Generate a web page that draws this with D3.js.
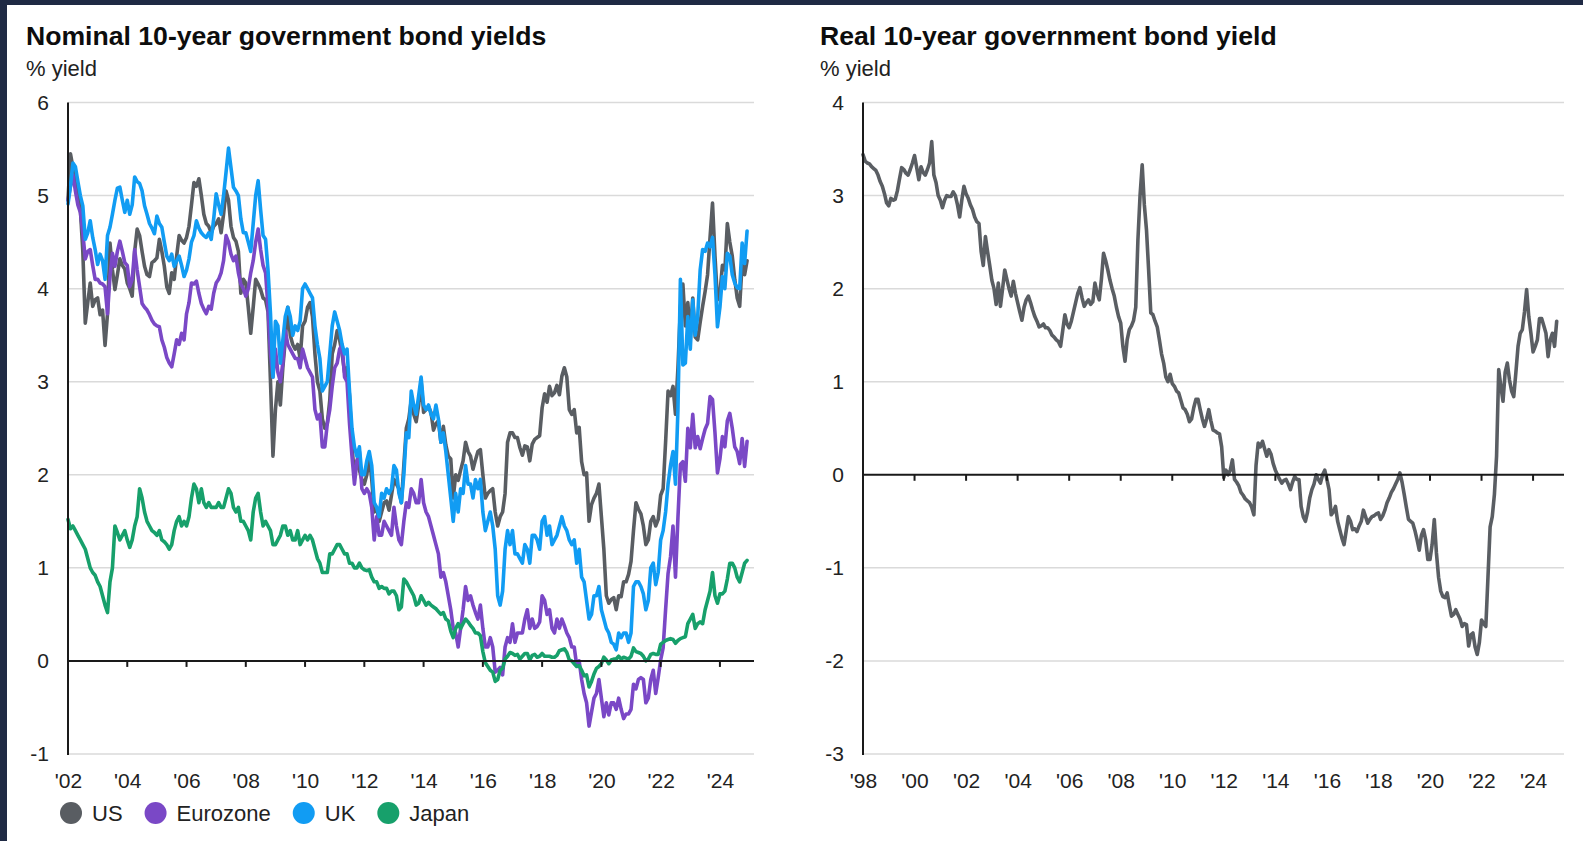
<!DOCTYPE html>
<html>
<head>
<meta charset="utf-8">
<script src="https://cdn.jsdelivr.net/npm/d3@7"></script>
<style>
  html, body { margin: 0; padding: 0; background: #1f2a44; }
  body { width: 1583px; height: 841px; overflow: hidden; }
  svg { display: block; }
</style>
</head>
<body>
<svg id="chart" width="1583" height="841"></svg>
<script>
// Monthly 10-year government bond yields (% yield), January 2002 to December 2024
const nominalStartYear = 2002;
const usYields = [
  4.95, 5.45, 5.30, 5.22, 5.05, 4.86, 4.40, 3.63, 3.85, 4.06, 3.81, 3.88,
  3.90, 3.72, 3.77, 3.39, 3.73, 4.49, 4.20, 3.99, 4.15, 4.32, 4.25, 4.21,
  4.06, 4.00, 3.92, 4.40, 4.64, 4.57, 4.40, 4.24, 4.15, 4.13, 4.28, 4.30,
  4.33, 4.53, 4.40, 4.24, 4.02, 3.95, 4.17, 4.10, 4.35, 4.57, 4.52, 4.49,
  4.55, 4.67, 4.90, 5.14, 5.10, 5.18, 5.00, 4.80, 4.70, 4.67, 4.60, 4.67,
  4.70, 4.75, 4.60, 4.80, 5.05, 4.95, 4.67, 4.55, 4.51, 4.40, 3.95, 4.10,
  4.06, 3.80, 3.52, 3.80, 4.10, 4.05, 3.99, 3.90, 3.88, 3.75, 3.00, 2.20,
  2.70, 3.00, 2.75, 3.15, 3.45, 3.80, 3.50, 3.40, 3.35, 3.40, 3.25, 3.60,
  3.65, 3.80, 3.85, 3.70, 3.30, 3.00, 2.90, 2.60, 2.50, 2.55, 2.80, 3.30,
  3.40, 3.55, 3.45, 3.30, 3.10, 3.15, 2.85, 2.30, 2.00, 2.15, 2.05, 1.95,
  1.90, 2.00, 2.20, 1.95, 1.60, 1.65, 1.50, 1.60, 1.70, 1.72, 1.62, 1.78,
  1.95, 1.90, 1.85, 1.70, 2.10, 2.50, 2.60, 2.80, 2.65, 2.57, 2.75, 3.00,
  2.67, 2.70, 2.73, 2.67, 2.48, 2.55, 2.58, 2.35, 2.52, 2.32, 2.20, 2.17,
  1.75, 2.00, 1.94, 2.05, 2.15, 2.35, 2.25, 2.20, 2.06, 2.16, 2.25, 2.27,
  2.00, 1.75, 1.80, 1.83, 1.85, 1.60, 1.45, 1.55, 1.60, 1.80, 2.35, 2.45,
  2.45, 2.40, 2.40, 2.29, 2.21, 2.31, 2.30, 2.15, 2.33, 2.38, 2.40, 2.42,
  2.72, 2.87, 2.78, 2.95, 2.85, 2.88, 2.96, 2.86, 3.06, 3.15, 3.05, 2.70,
  2.65, 2.70, 2.45, 2.51, 2.14, 2.00, 2.02, 1.50, 1.68, 1.75, 1.80, 1.90,
  1.55, 1.20, 0.70, 0.62, 0.66, 0.68, 0.55, 0.70, 0.69, 0.85, 0.85, 0.93,
  1.07, 1.40, 1.70, 1.63, 1.58, 1.45, 1.25, 1.30, 1.50, 1.55, 1.45, 1.52,
  1.78, 1.85, 2.35, 2.90, 2.85, 2.95, 2.65, 3.15, 3.80, 4.05, 3.60, 3.85,
  3.50, 3.90, 3.48, 3.45, 3.64, 3.81, 3.97, 4.15, 4.55, 4.92, 4.35, 3.88,
  3.95, 4.25, 4.20, 4.70, 4.50, 4.35, 4.10, 3.90, 3.81, 4.28, 4.15, 4.30
];
const eurozoneYields = [
  4.95, 5.10, 5.22, 5.05, 4.90, 4.82, 4.60, 4.32, 4.40, 4.42, 4.25, 4.10,
  4.10, 4.06, 4.05, 4.02, 3.73, 4.13, 4.38, 4.24, 4.40, 4.51, 4.40, 4.28,
  4.25, 4.02, 4.10, 4.42, 4.20, 4.02, 3.84, 3.80, 3.77, 3.72, 3.66, 3.62,
  3.60, 3.59, 3.45, 3.37, 3.26, 3.20, 3.16, 3.30, 3.45, 3.40, 3.52, 3.45,
  3.73, 3.85, 4.06, 4.05, 4.08, 3.95, 3.84, 3.78, 3.73, 3.81, 3.78, 3.95,
  4.06, 4.10, 4.17, 4.30, 4.57, 4.50, 4.37, 4.30, 4.35, 4.17, 4.05, 4.00,
  3.92, 4.00, 4.17, 4.30, 4.50, 4.64, 4.42, 4.25, 4.17, 3.80, 3.30, 3.05,
  3.35, 3.10, 3.00, 3.20, 3.55, 3.40, 3.35, 3.30, 3.25, 3.25, 3.15, 3.35,
  3.25, 3.15, 3.10, 3.05, 2.70, 2.60, 2.65, 2.30, 2.30, 2.55, 2.70, 2.95,
  3.15, 3.20, 3.35, 3.40, 3.05, 3.00, 2.55, 2.20, 1.90, 2.15, 2.25, 1.85,
  1.80, 1.85, 1.80, 1.65, 1.30, 1.55, 1.35, 1.35, 1.50, 1.45, 1.40, 1.35,
  1.65, 1.45, 1.30, 1.25, 1.50, 1.70, 1.65, 1.85, 1.80, 1.70, 1.70, 1.95,
  1.70, 1.60, 1.55, 1.45, 1.35, 1.25, 1.15, 0.90, 0.95, 0.85, 0.70, 0.55,
  0.35, 0.30, 0.15, 0.35, 0.55, 0.80, 0.65, 0.70, 0.60, 0.52, 0.45, 0.60,
  0.35, 0.15, 0.15, 0.25, 0.15, -0.12, -0.10, -0.07, -0.15, 0.15, 0.25, 0.20,
  0.40, 0.20, 0.30, 0.30, 0.30, 0.45, 0.55, 0.35, 0.45, 0.35, 0.37, 0.42,
  0.70, 0.65, 0.50, 0.55, 0.35, 0.30, 0.45, 0.35, 0.45, 0.38, 0.30, 0.25,
  0.15, 0.15, -0.05, 0.00, -0.20, -0.35, -0.45, -0.70, -0.55, -0.40, -0.35, -0.20,
  -0.40, -0.60, -0.45, -0.58, -0.45, -0.45, -0.52, -0.40, -0.52, -0.62, -0.57, -0.57,
  -0.52, -0.25, -0.30, -0.20, -0.18, -0.20, -0.45, -0.40, -0.20, -0.10, -0.35, -0.18,
  0.01, 0.14, 0.55, 0.94, 1.12, 1.45, 0.90, 1.54, 2.11, 2.14, 1.93, 2.50,
  2.29, 2.65, 2.29, 2.41, 2.28, 2.39, 2.49, 2.55, 2.84, 2.81, 2.45, 2.02,
  2.17, 2.41, 2.30, 2.58, 2.66, 2.50, 2.30, 2.25, 2.12, 2.39, 2.09, 2.36
];
const ukYields = [
  4.91, 5.10, 5.35, 5.31, 5.15, 5.00, 4.89, 4.53, 4.60, 4.73, 4.55, 4.42,
  4.26, 4.37, 4.30, 4.10, 4.57, 4.66, 4.80, 4.95, 5.08, 5.09, 4.95, 4.82,
  4.95, 4.80, 4.90, 5.20, 5.15, 5.13, 5.05, 4.89, 4.80, 4.70, 4.65, 4.59,
  4.78, 4.70, 4.66, 4.50, 4.35, 4.30, 4.37, 4.24, 4.30, 4.35, 4.25, 4.13,
  4.20, 4.32, 4.50, 4.57, 4.73, 4.65, 4.60, 4.57, 4.55, 4.60, 4.53, 4.75,
  5.02, 4.90, 4.80, 5.00, 5.25, 5.51, 5.30, 5.09, 5.05, 5.00, 4.75, 4.60,
  4.60, 4.50, 4.40, 4.70, 5.00, 5.16, 4.85, 4.57, 4.53, 4.20, 3.73, 3.05,
  3.65, 3.60, 3.20, 3.45, 3.70, 3.80, 3.70, 3.50, 3.60, 3.55, 3.65, 4.00,
  4.05, 4.00, 3.95, 3.90, 3.60, 3.40, 3.25, 2.90, 2.95, 3.00, 3.30, 3.60,
  3.75, 3.65, 3.55, 3.40, 3.30, 3.35, 2.90, 2.50, 2.30, 2.20, 2.30, 2.00,
  2.00, 2.15, 2.25, 2.10, 1.70, 1.65, 1.55, 1.80, 1.75, 1.85, 1.80, 1.85,
  2.10, 2.05, 1.80, 1.70, 2.00, 2.45, 2.40, 2.90, 2.75, 2.65, 2.85, 3.05,
  2.75, 2.70, 2.75, 2.65, 2.60, 2.75, 2.60, 2.35, 2.45, 2.25, 2.00, 1.75,
  1.50, 1.80, 1.60, 1.85, 1.80, 2.10, 1.90, 1.90, 1.75, 1.95, 1.85, 1.95,
  1.60, 1.40, 1.50, 1.60, 1.45, 1.20, 0.70, 0.60, 0.75, 1.20, 1.40, 1.25,
  1.40, 1.15, 1.15, 1.10, 1.05, 1.25, 1.20, 1.05, 1.35, 1.35, 1.30, 1.20,
  1.50, 1.55, 1.35, 1.45, 1.25, 1.30, 1.35, 1.45, 1.55, 1.45, 1.40, 1.30,
  1.25, 1.30, 1.05, 1.20, 0.90, 0.85, 0.65, 0.45, 0.50, 0.70, 0.70, 0.80,
  0.55, 0.45, 0.35, 0.30, 0.20, 0.18, 0.12, 0.30, 0.25, 0.30, 0.30, 0.20,
  0.30, 0.80, 0.85, 0.85, 0.80, 0.72, 0.55, 0.65, 1.00, 1.05, 0.82, 0.95,
  1.30, 1.40, 1.60, 1.90, 2.10, 2.25, 1.90, 2.70, 4.10, 3.18, 3.20, 3.70,
  3.35, 3.88, 3.50, 3.70, 4.20, 4.42, 4.40, 4.49, 4.45, 4.55, 4.15, 3.59,
  3.80, 4.13, 4.00, 4.38, 4.35, 4.15, 4.06, 4.01, 4.00, 4.49, 4.27, 4.62
];
const japanYields = [
  1.52, 1.42, 1.45, 1.40, 1.35, 1.30, 1.25, 1.20, 1.10, 1.00, 0.95, 0.92,
  0.85, 0.80, 0.70, 0.60, 0.52, 0.85, 1.00, 1.45, 1.38, 1.30, 1.35, 1.40,
  1.30, 1.22, 1.30, 1.45, 1.55, 1.85, 1.75, 1.60, 1.50, 1.45, 1.40, 1.38,
  1.35, 1.40, 1.30, 1.28, 1.25, 1.20, 1.25, 1.40, 1.50, 1.55, 1.45, 1.50,
  1.45, 1.55, 1.75, 1.90, 1.85, 1.70, 1.85, 1.70, 1.65, 1.70, 1.65, 1.65,
  1.65, 1.70, 1.65, 1.65, 1.75, 1.85, 1.80, 1.65, 1.60, 1.65, 1.50, 1.50,
  1.45, 1.40, 1.30, 1.60, 1.75, 1.80, 1.60, 1.45, 1.50, 1.45, 1.40, 1.25,
  1.25, 1.30, 1.35, 1.45, 1.45, 1.35, 1.40, 1.30, 1.30, 1.40, 1.25, 1.30,
  1.35, 1.30, 1.35, 1.30, 1.20, 1.10, 1.05, 0.95, 0.95, 0.95, 1.15, 1.15,
  1.20, 1.25, 1.25, 1.20, 1.15, 1.15, 1.05, 1.05, 1.00, 1.00, 1.05, 1.00,
  0.98, 0.97, 0.98, 0.90, 0.85, 0.85, 0.78, 0.80, 0.78, 0.78, 0.72, 0.75,
  0.75, 0.70, 0.55, 0.58, 0.88, 0.85, 0.80, 0.75, 0.70, 0.60, 0.62, 0.70,
  0.65, 0.60, 0.63, 0.60, 0.58, 0.56, 0.53, 0.50, 0.52, 0.45, 0.43, 0.32,
  0.25, 0.35, 0.40, 0.35, 0.40, 0.45, 0.42, 0.38, 0.35, 0.30, 0.30, 0.27,
  0.10, -0.02, -0.06, -0.10, -0.12, -0.22, -0.20, -0.10, -0.08, 0.02, 0.05, 0.09,
  0.08, 0.06, 0.07, 0.02, 0.05, 0.08, 0.08, 0.01, 0.06, 0.07, 0.04, 0.05,
  0.08, 0.05, 0.05, 0.05, 0.04, 0.04, 0.06, 0.11, 0.12, 0.13, 0.09, 0.01,
  0.00, -0.03, -0.06, -0.05, -0.10, -0.16, -0.15, -0.28, -0.22, -0.14, -0.08, -0.06,
  -0.03, 0.04, 0.01, -0.03, 0.01, 0.02, 0.02, 0.05, 0.02, 0.04, 0.03, 0.02,
  0.05, 0.14, 0.10, 0.09, 0.08, 0.05, 0.00, 0.02, 0.07, 0.08, 0.07, 0.07,
  0.18, 0.20, 0.22, 0.23, 0.24, 0.23, 0.19, 0.22, 0.24, 0.25, 0.26, 0.40,
  0.45, 0.50, 0.35, 0.40, 0.42, 0.40, 0.55, 0.65, 0.75, 0.95, 0.70, 0.62,
  0.72, 0.72, 0.75, 0.88, 1.05, 1.05, 1.00, 0.90, 0.85, 0.95, 1.05, 1.08
];

// Monthly real 10-year government bond yield (% yield), January 1998 to December 2024
const realStartYear = 1998;
const realYields = [
  3.44, 3.37, 3.35, 3.34, 3.31, 3.29, 3.27, 3.22, 3.15, 3.10, 3.02, 2.92,
  2.89, 2.97, 2.95, 2.96, 3.05, 3.18, 3.30, 3.28, 3.24, 3.22, 3.28, 3.35,
  3.43, 3.30, 3.17, 3.31, 3.25, 3.22, 3.28, 3.35, 3.58, 3.22, 3.14, 3.00,
  2.95, 2.87, 2.95, 3.00, 2.99, 2.99, 3.04, 3.00, 2.90, 2.77, 2.95, 3.10,
  3.02, 2.97, 2.90, 2.85, 2.77, 2.72, 2.70, 2.40, 2.25, 2.56, 2.40, 2.25,
  2.09, 2.00, 1.83, 2.06, 1.81, 2.00, 2.20, 2.10, 2.00, 1.92, 2.08, 1.95,
  1.85, 1.75, 1.66, 1.80, 1.88, 1.92, 1.85, 1.77, 1.70, 1.65, 1.59, 1.60,
  1.62, 1.58, 1.58, 1.55, 1.50, 1.48, 1.45, 1.43, 1.38, 1.55, 1.72, 1.62,
  1.58, 1.65, 1.75, 1.85, 1.95, 2.01, 1.90, 1.81, 1.85, 1.88, 1.83, 1.86,
  2.06, 1.95, 1.88, 2.10, 2.38, 2.30, 2.20, 2.09, 2.00, 1.92, 1.80, 1.70,
  1.63, 1.38, 1.22, 1.45, 1.56, 1.60, 1.66, 1.80, 2.52, 3.00, 3.33, 2.90,
  2.63, 2.20, 1.74, 1.72, 1.65, 1.59, 1.45, 1.30, 1.20, 1.05, 1.00, 1.08,
  0.98, 0.95, 0.90, 0.88, 0.80, 0.72, 0.70, 0.65, 0.57, 0.60, 0.72, 0.81,
  0.81, 0.70, 0.60, 0.52, 0.60, 0.70, 0.58, 0.48, 0.47, 0.45, 0.44, 0.30,
  -0.03, 0.05, 0.00, 0.05, 0.16, -0.05, -0.08, -0.12, -0.19, -0.22, -0.26, -0.28,
  -0.30, -0.35, -0.43, 0.10, 0.34, 0.30, 0.36, 0.28, 0.20, 0.27, 0.22, 0.12,
  0.05, 0.00, -0.05, -0.09, -0.06, -0.05, -0.10, -0.16, -0.08, -0.02, -0.05, -0.05,
  -0.34, -0.45, -0.50, -0.40, -0.25, -0.16, -0.10, 0.00, -0.05, -0.09, 0.00, 0.05,
  -0.05, -0.16, -0.43, -0.40, -0.34, -0.50, -0.59, -0.68, -0.75, -0.60, -0.45, -0.50,
  -0.59, -0.58, -0.61, -0.55, -0.50, -0.38, -0.45, -0.52, -0.48, -0.45, -0.44, -0.42,
  -0.41, -0.48, -0.44, -0.38, -0.30, -0.25, -0.19, -0.15, -0.10, -0.05, 0.02, -0.08,
  -0.21, -0.35, -0.48, -0.50, -0.52, -0.60, -0.70, -0.81, -0.65, -0.59, -0.70, -0.91,
  -0.91, -0.75, -0.48, -0.84, -1.10, -1.25, -1.31, -1.32, -1.27, -1.40, -1.52, -1.50,
  -1.45, -1.50, -1.55, -1.63, -1.60, -1.61, -1.84, -1.72, -1.70, -1.85, -1.93, -1.80,
  -1.56, -1.60, -1.63, -1.10, -0.56, -0.45, -0.21, 0.20, 1.13, 0.95, 0.79, 1.10,
  1.20, 1.02, 0.90, 0.84, 1.10, 1.38, 1.52, 1.56, 1.75, 1.99, 1.70, 1.52,
  1.32, 1.38, 1.45, 1.68, 1.68, 1.60, 1.52, 1.27, 1.45, 1.52, 1.38, 1.65
];

// Axis ticks and labels
const nominalYearTicks = d3.range(2002, 2025, 2);
const realYearTicks = d3.range(1998, 2025, 2);
const nominalValueTicks = [-1, 0, 1, 2, 3, 4, 5, 6];
const realValueTicks = [-3, -2, -1, 0, 1, 2, 3, 4];
const seriesNames = ["US", "Eurozone", "UK", "Japan"];
const seriesColors = ["#595d62", "#7a48c6", "#119cf3", "#17a06b"];
const realColor = "#5a5e63";

const FONT = "'Liberation Sans', Arial, Helvetica, sans-serif";
const yearLabel = yr => "'" + String(yr % 100).padStart(2, "0");

const svg = d3.select("#chart");
svg.append("rect").attr("x", 7).attr("y", 5).attr("width", 1576).attr("height", 836).attr("fill", "#ffffff");

function drawPanel(cfg) {
  const g = svg.append("g");
  const x = d3.scaleLinear().domain(cfg.xDomain).range([cfg.left, cfg.right]);
  const y = d3.scaleLinear().domain(cfg.yDomain).range([cfg.bottom, cfg.top]);

  // title and unit
  g.append("text").attr("x", cfg.titleX).attr("y", 45)
    .attr("font-family", FONT).attr("font-weight", "bold").attr("font-size", 26.6)
    .attr("fill", "#0d0d0d").text(cfg.title);
  g.append("text").attr("x", cfg.titleX).attr("y", 76)
    .attr("font-family", FONT).attr("font-size", 22).attr("fill", "#222").text("% yield");

  // horizontal gridlines (zero line drawn separately)
  g.append("g").selectAll("line")
    .data(cfg.valueTicks.filter(v => v !== 0)).join("line")
    .attr("x1", cfg.left).attr("x2", cfg.right)
    .attr("y1", d => y(d)).attr("y2", d => y(d))
    .attr("stroke", "#dadada").attr("stroke-width", 1.5);

  // value labels
  g.append("g").attr("transform", `translate(${cfg.left},0)`)
    .call(d3.axisLeft(y).tickValues(cfg.valueTicks).tickSize(0).tickPadding(19).tickFormat(d => String(d)))
    .call(a => a.select(".domain").remove())
    .selectAll("text").attr("font-family", FONT).attr("font-size", 21).attr("fill", "#222");

  // year labels
  g.append("g").attr("transform", `translate(0,${cfg.bottom + 19})`)
    .call(d3.axisBottom(x).tickValues(cfg.yearTicks).tickSize(0).tickPadding(0).tickFormat(yearLabel))
    .call(a => a.select(".domain").remove())
    .selectAll("text").attr("font-family", FONT).attr("font-size", 21).attr("fill", "#222");

  // data lines
  const line = d3.line()
    .x((d, i) => x(cfg.startYear + i / 12))
    .y(d => y(d))
    .curve(d3.curveLinear);
  g.append("g").selectAll("path").data(cfg.series).join("path")
    .attr("d", s => line(s.values))
    .attr("fill", "none").attr("stroke", s => s.color)
    .attr("stroke-width", 3.6).attr("stroke-linejoin", "round").attr("stroke-linecap", "round");

  // zero line with year ticks
  g.append("line").attr("x1", cfg.left).attr("x2", cfg.right)
    .attr("y1", y(0)).attr("y2", y(0)).attr("stroke", "#1a1a1a").attr("stroke-width", 2);
  g.append("g").selectAll("line").data(cfg.yearTicks.slice(1)).join("line")
    .attr("x1", d => x(d)).attr("x2", d => x(d))
    .attr("y1", y(0)).attr("y2", y(0) + 6)
    .attr("stroke", "#1a1a1a").attr("stroke-width", 2);

  // vertical axis
  g.append("line").attr("x1", cfg.left).attr("x2", cfg.left)
    .attr("y1", cfg.top).attr("y2", cfg.bottom + 1)
    .attr("stroke", "#1a1a1a").attr("stroke-width", 2);
}

drawPanel({
  title: "Nominal 10-year government bond yields", titleX: 26,
  left: 68, right: 754, top: 102.5, bottom: 754,
  xDomain: [2002, 2025.15], yDomain: [-1, 6],
  yearTicks: nominalYearTicks, valueTicks: nominalValueTicks,
  startYear: nominalStartYear,
  series: [
    { values: usYields, color: seriesColors[0] },
    { values: eurozoneYields, color: seriesColors[1] },
    { values: ukYields, color: seriesColors[2] },
    { values: japanYields, color: seriesColors[3] }
  ]
});

drawPanel({
  title: "Real 10-year government bond yield", titleX: 820,
  left: 863, right: 1564, top: 102.5, bottom: 754,
  xDomain: [1998, 2025.2], yDomain: [-3, 4],
  yearTicks: realYearTicks, valueTicks: realValueTicks,
  startYear: realStartYear,
  series: [{ values: realYields, color: realColor }]
});

// legend
const legend = svg.append("g").attr("transform", "translate(60,813)");
let cursor = 0;
seriesNames.forEach((name, i) => {
  legend.append("circle").attr("cx", cursor + 11).attr("cy", 0).attr("r", 11).attr("fill", seriesColors[i]);
  const t = legend.append("text").attr("x", cursor + 32).attr("y", 0).attr("dy", "0.35em")
    .attr("font-family", FONT).attr("font-size", 22).attr("fill", "#222").text(name);
  cursor += 32 + t.node().getComputedTextLength() + 22;
});
</script>
</body>
</html>
